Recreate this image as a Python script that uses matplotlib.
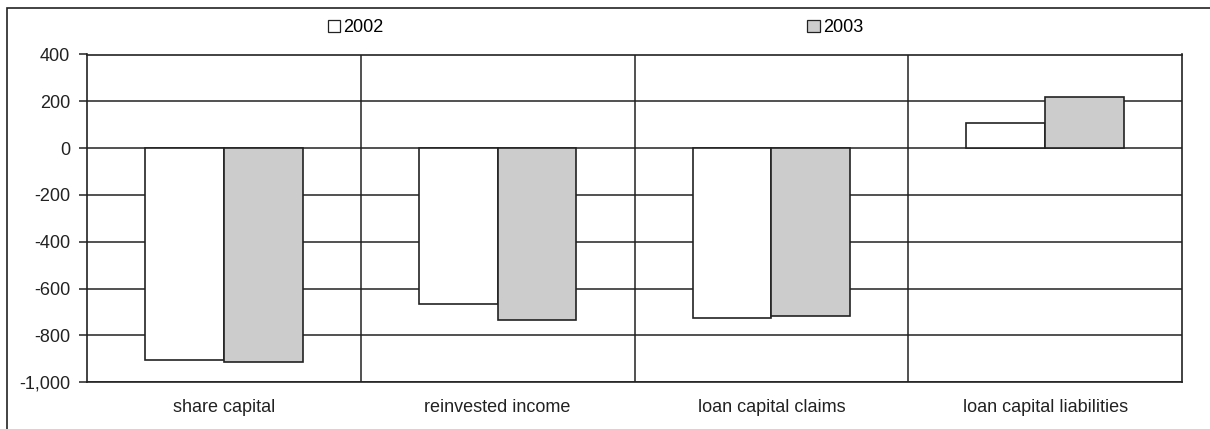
import numpy as np
import matplotlib.pyplot as plt
from matplotlib.patches import Patch, Rectangle
from matplotlib.ticker import FuncFormatter

plt.rcParams['font.family'] = ['Liberation Sans', 'DejaVu Sans']

# dados
categorias = ['share capital', 'reinvested income', 'loan capital claims', 'loan capital liabilities']
anos = ['2002', '2003']
valores_2002 = [-905, -667, -727, 107]
valores_2003 = [-913, -735, -717, 217]

cor_borda = '#222222'
cores = ['white', '#cccccc']
tam_fonte = 13

fig = plt.figure(figsize=(12.1, 4.29), dpi=100)
ax = fig.add_axes([87/1210, 1 - 382.3/429, (1182 - 87)/1210, (382.3 - 54.5)/429])

x = np.arange(len(categorias))
largura = 0.288
ax.bar(x - largura/2, valores_2002, largura, color=cores[0], edgecolor=cor_borda, linewidth=1.2, zorder=3)
ax.bar(x + largura/2, valores_2003, largura, color=cores[1], edgecolor=cor_borda, linewidth=1.2, zorder=3)

ax.set_xlim(-0.5, len(categorias) - 0.5)
ax.set_ylim(-1000, 400)
ax.set_yticks(np.arange(-1000, 401, 200))
ax.yaxis.set_major_formatter(FuncFormatter(lambda v, p: '{:,.0f}'.format(v)))
ax.set_xticks(x)
ax.set_xticklabels(categorias)
ax.set_xticks(np.arange(0.5, len(categorias) - 1, 1), minor=True)

# grade horizontal e separadores verticais
ax.grid(axis='y', which='major', color=cor_borda, linewidth=1.1, zorder=0)
ax.grid(axis='x', which='minor', color=cor_borda, linewidth=1.1, zorder=0)
ax.set_axisbelow(True)

for s in ax.spines.values():
    s.set_color(cor_borda)
    s.set_linewidth(1.2)

ax.tick_params(axis='y', length=6, width=1.1, color=cor_borda, labelsize=tam_fonte, pad=6, labelcolor='#222222')
ax.tick_params(axis='x', which='both', length=0, labelsize=tam_fonte, pad=12, labelcolor='#222222')

handles = [Patch(facecolor=cores[0], edgecolor=cor_borda, linewidth=0.9),
           Patch(facecolor=cores[1], edgecolor=cor_borda, linewidth=0.9)]
fig.legend(handles, anos, loc='center', bbox_to_anchor=(0.492, 0.935), ncol=2,
           frameon=False, fontsize=tam_fonte, handlelength=0.7, handleheight=0.7,
           handletextpad=0.15, columnspacing=23.5)

# moldura externa
fig.patches.append(Rectangle((7/1210, -0.1), 1.2, 1 - 8/429 + 0.1, transform=fig.transFigure,
                             fill=False, edgecolor=cor_borda, linewidth=1.2))

fig.savefig('out.png', dpi=100)
